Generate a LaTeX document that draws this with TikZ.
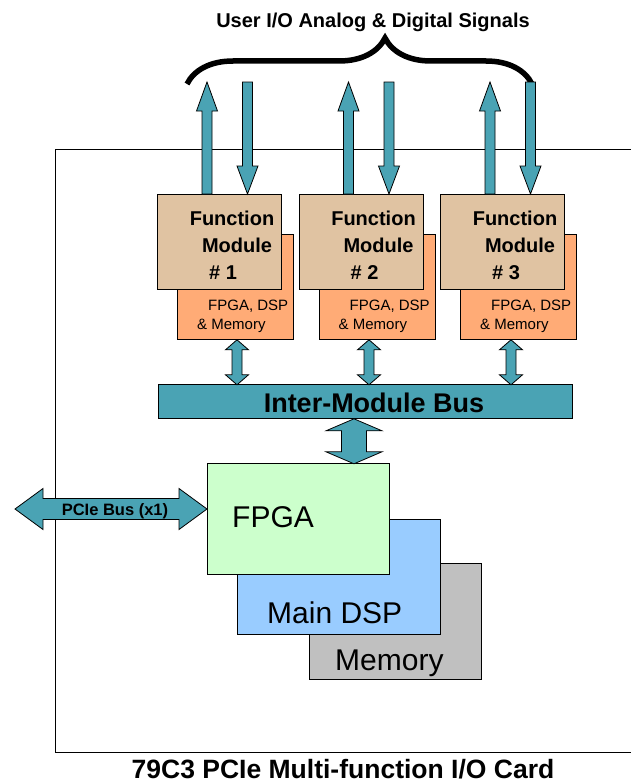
\documentclass[tikz,border=0pt]{standalone}
\usepackage{fontspec}
\setmainfont{Liberation Sans}
\usetikzlibrary{calc, decorations.pathreplacing}
\definecolor{busteal}{RGB}{74,163,180}
\definecolor{fmtan}{RGB}{224,195,162}
\definecolor{chiporange}{RGB}{255,171,118}
\definecolor{fpgagreen}{RGB}{204,255,204}
\definecolor{dspblue}{RGB}{153,204,255}
\definecolor{memgray}{RGB}{192,192,192}

\begin{document}
\begin{tikzpicture}[x=1pt, y=-1pt,
    fmbox/.style={draw, fill=fmtan, line width=0.8pt, minimum width=124pt, minimum height=95pt, anchor=north west, inner sep=0pt},
    chipbox/.style={draw, fill=chiporange, line width=0.8pt, minimum width=116pt, minimum height=105pt, anchor=north west, inner sep=0pt},
    fatarrow/.style={draw, fill=busteal, line width=0.8pt, line join=miter},
    fmtext/.style={font=\fontsize{20}{27}\selectfont\bfseries, align=center, inner sep=0pt},
    chiptext/.style={font=\fontsize{15}{19}\selectfont, align=left, anchor=west, inner sep=0pt},
    bigtext/.style={font=\fontsize{30}{30}\selectfont, anchor=base west, inner sep=0pt}]
    \useasboundingbox (0,0) rectangle (631,784);

    % Card outline
    \draw[line width=0.8pt] (631,149) -- (55,149) -- (55,752) -- (631,752);

    % User I/O
    \node[font=\fontsize{20}{24}\selectfont\bfseries, anchor=base, inner sep=0pt] (usertitle) at (373,27.5) {User I/O Analog \& Digital Signals};
    \draw[line width=5.5pt, decorate, decoration={brace, amplitude=46pt, aspect=0.574}] (187,84) -- (532,84);

    % Function Module 1
    \node[chipbox] (chip1) at (177,234) {};
    \node[fmbox] (fm1) at (157,194) {};
    \node[fmtext] (fm1txt) at (232,245) {Function\\\hspace*{10pt}Module\\\# 1\hspace*{18pt}};
    \node[chiptext] (chip1txt) at (197,316.5) {\hspace*{11pt}FPGA, DSP\\\& Memory};
    \draw[fatarrow] ($(fm1.north west)+(45,0)$) -- ++(0,-83) -- ++(-5.5,0) -- ++(10.5,-29) -- ++(10.5,29) -- ++(-5.5,0) -- ++(0,83) -- cycle;
    \draw[fatarrow] ($(fm1.north west)+(90.5,0)$) -- ++(-10.5,-28) -- ++(5.5,0) -- ++(0,-84) -- ++(10,0) -- ++(0,84) -- ++(5.5,0) -- cycle;

    % Function Module 2
    \node[chipbox] (chip2) at (318.5,234) {};
    \node[fmbox] (fm2) at (298.5,194) {};
    \node[fmtext] (fm2txt) at (373.5,245) {Function\\\hspace*{10pt}Module\\\# 2\hspace*{18pt}};
    \node[chiptext] (chip2txt) at (338.5,316.5) {\hspace*{11pt}FPGA, DSP\\\& Memory};
    \draw[fatarrow] ($(fm2.north west)+(45,0)$) -- ++(0,-83) -- ++(-5.5,0) -- ++(10.5,-29) -- ++(10.5,29) -- ++(-5.5,0) -- ++(0,83) -- cycle;
    \draw[fatarrow] ($(fm2.north west)+(90.5,0)$) -- ++(-10.5,-28) -- ++(5.5,0) -- ++(0,-84) -- ++(10,0) -- ++(0,84) -- ++(5.5,0) -- cycle;

    % Function Module 3
    \node[chipbox] (chip3) at (460,234) {};
    \node[fmbox] (fm3) at (440,194) {};
    \node[fmtext] (fm3txt) at (515,245) {Function\\\hspace*{10pt}Module\\\# 3\hspace*{18pt}};
    \node[chiptext] (chip3txt) at (480,316.5) {\hspace*{11pt}FPGA, DSP\\\& Memory};
    \draw[fatarrow] ($(fm3.north west)+(45,0)$) -- ++(0,-83) -- ++(-5.5,0) -- ++(10.5,-29) -- ++(10.5,29) -- ++(-5.5,0) -- ++(0,83) -- cycle;
    \draw[fatarrow] ($(fm3.north west)+(90.5,0)$) -- ++(-10.5,-28) -- ++(5.5,0) -- ++(0,-84) -- ++(10,0) -- ++(0,84) -- ++(5.5,0) -- cycle;

    % Inter-Module Bus
    \node[draw, fill=busteal, line width=0.8pt, minimum width=414pt, minimum height=34pt, anchor=north west, inner sep=0pt] (bus) at (158,384) {};
    \node[font=\fontsize{27}{27}\selectfont\bfseries, anchor=base, inner sep=0pt] (bustxt) at (374,412) {Inter-Module Bus};
    \draw[fatarrow] ($(chip1.south west)+(60,0)$) -- ++(11.5,10) -- ++(-6.5,0) -- ++(0,25) -- ++(6.5,0) -- ++(-11.5,10) -- ++(-11.5,-10) -- ++(6.5,0) -- ++(0,-25) -- ++(-6.5,0) -- cycle;
    \draw[fatarrow] ($(chip2.south west)+(50.5,0)$) -- ++(11.5,10) -- ++(-6.5,0) -- ++(0,25) -- ++(6.5,0) -- ++(-11.5,10) -- ++(-11.5,-10) -- ++(6.5,0) -- ++(0,-25) -- ++(-6.5,0) -- cycle;
    \draw[fatarrow] ($(chip3.south west)+(51,0)$) -- ++(11.5,10) -- ++(-6.5,0) -- ++(0,25) -- ++(6.5,0) -- ++(-11.5,10) -- ++(-11.5,-10) -- ++(6.5,0) -- ++(0,-25) -- ++(-6.5,0) -- cycle;

    % Main board: Memory, DSP, FPGA
    \node[draw, fill=memgray, line width=0.8pt, minimum width=172pt, minimum height=116pt, anchor=north west] (mem) at (309,563) {};
    \node[bigtext] (memtxt) at (335,670) {Memory};
    \node[draw, fill=dspblue, line width=0.8pt, minimum width=203pt, minimum height=115pt, anchor=north west] (dsp) at (237,519) {};
    \node[bigtext] (dsptxt) at (267,623) {Main DSP};
    \node[draw, fill=fpgagreen, line width=0.8pt, minimum width=182pt, minimum height=111pt, anchor=north west] (fpga) at (207,463) {};
    \node[bigtext] (fpgatxt) at (232,527) {FPGA};
    \draw[fatarrow] ($(bus.south west)+(196,0)$) -- ++(28,12) -- ++(-15.5,0) -- ++(0,21) -- ++(15.5,0) -- ++(-28,12) -- ++(-28,-12) -- ++(15.5,0) -- ++(0,-21) -- ++(-15.5,0) -- cycle;

    % PCIe Bus
    \coordinate (pcieend) at (15,509);
    \draw[fatarrow] ($(fpga.north west)+(0,46)$) -- ++(-28,-20.5) -- ++(0,10) -- ++(-136,0) -- ++(0,-10) -- (pcieend) -- ++(28,20.5) -- ++(0,-10) -- ++(136,0) -- ++(0,10) -- cycle;
    \node[font=\fontsize{16.5}{16.5}\selectfont\bfseries, anchor=base, inner sep=0pt] (pcietxt) at (115,515) {PCIe Bus (x1)};

    % Card name
    \node[font=\fontsize{26.5}{26.5}\selectfont\bfseries, anchor=base, inner sep=0pt] (cardtitle) at (343,778) {79C3 PCIe Multi-function I/O Card};
\end{tikzpicture}
\end{document}
